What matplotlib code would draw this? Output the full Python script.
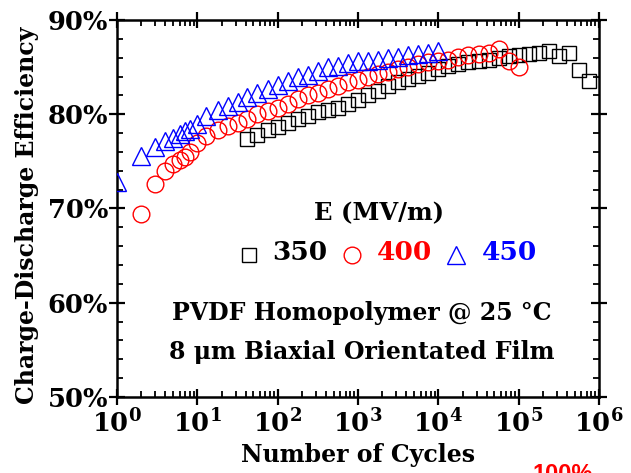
import math
import matplotlib
matplotlib.use("Agg")
import matplotlib.pyplot as plt
from matplotlib.ticker import FixedLocator, LogLocator, NullFormatter, MultipleLocator, FuncFormatter

# ---------------- data ----------------
cycles_350 = [42, 56, 75, 100, 133, 178, 237, 316, 422, 562, 750, 1000, 1334, 1778,
              2371, 3162, 4217, 5623, 7499, 10000, 13335, 17783, 23714, 31623, 42170,
              56234, 74989, 100000, 133352, 177828, 237137, 316228, 421697, 562341, 749894]
eff_350 = [77.4, 77.8, 78.3, 78.7, 79.1, 79.5, 79.8, 80.2, 80.4, 80.7, 81.1, 81.5, 82.0, 82.5,
           83.0, 83.4, 83.7, 84.1, 84.4, 84.8, 85.1, 85.3, 85.5, 85.7, 85.8,
           86.0, 86.2, 86.3, 86.4, 86.5, 86.7, 86.2, 86.5, 84.7, 83.5]

cycles_400 = [2, 3, 4, 5, 6, 7, 8, 10, 13, 18, 24, 32, 42, 56, 75, 100, 133, 178, 237, 316,
              422, 562, 750, 1000, 1334, 1778, 2371, 3162, 4217, 5623, 7499, 10000, 13335,
              17783, 23714, 31623, 42170, 56234, 74989, 100000]
eff_400 = [69.4, 72.6, 74.0, 74.7, 75.1, 75.5, 76.0, 77.0, 77.7, 78.3, 78.8, 79.1, 79.5, 80.0,
           80.3, 80.7, 81.1, 81.6, 82.0, 82.3, 82.7, 83.0, 83.4, 83.6, 83.9, 84.3, 84.5, 84.8,
           85.0, 85.3, 85.5, 85.7, 85.8, 86.1, 86.3, 86.4, 86.5, 86.9, 85.7, 85.0]

cycles_450 = [1, 2, 3, 4, 5, 6, 7, 8, 10, 13, 18, 24, 32, 42, 56, 75, 100, 133, 178, 237,
              316, 422, 562, 750, 1000, 1334, 1778, 2371, 3162, 4217, 5623, 7499, 10000]
eff_450 = [72.8, 75.6, 76.5, 77.2, 77.5, 77.9, 78.2, 78.4, 79.0, 79.8, 80.4, 80.9, 81.3, 81.8,
           82.3, 82.7, 83.1, 83.5, 83.9, 84.2, 84.6, 85.0, 85.1, 85.4, 85.6, 85.7, 85.8, 86.0,
           86.1, 86.3, 86.4, 86.5, 86.7]

y_ticks = [50, 60, 70, 80, 90]
x_ticks = [1, 10, 100, 1000, 10000, 100000, 1000000]
legend_labels = ["350", "400", "450"]
colors = ["black", "red", "blue"]

# ---------------- style ----------------
plt.rcParams['font.family'] = ['DejaVu Serif']
plt.rcParams['font.weight'] = 'bold'
plt.rcParams['mathtext.fontset'] = 'custom'
plt.rcParams['mathtext.rm'] = 'DejaVu Serif:bold'
plt.rcParams['mathtext.bf'] = 'DejaVu Serif:bold'
plt.rcParams['mathtext.it'] = 'DejaVu Serif:bold'

W, H = 631, 473
fig = plt.figure(figsize=(W/100, H/100), dpi=100)
ax = fig.add_axes([117/W, 1-397/H, (599-117)/W, (397-20)/H])

ax.plot(cycles_350, eff_350, ls='none', marker='s', ms=9.5, mfc='none', mec=colors[0], mew=1.0, clip_on=False, zorder=3)
ax.plot(cycles_400, eff_400, ls='none', marker='o', ms=12, mfc='none', mec=colors[1], mew=1.0, clip_on=False, zorder=3)
ax.plot(cycles_450, eff_450, ls='none', marker='^', ms=13, mfc='none', mec=colors[2], mew=1.0, clip_on=True, zorder=3)

ax.set_xscale('log')
ax.set_xlim(1, 1e6)
ax.set_ylim(50, 90)
ax.xaxis.set_major_locator(FixedLocator(x_ticks))
ax.xaxis.set_minor_locator(LogLocator(base=10, subs=range(2, 10), numticks=100))
ax.xaxis.set_minor_formatter(NullFormatter())
ax.xaxis.set_major_formatter(FuncFormatter(lambda v, p: r'$\mathbf{10^{%d}}$' % round(math.log10(v))))
ax.yaxis.set_major_locator(FixedLocator(y_ticks))
ax.yaxis.set_minor_locator(MultipleLocator(2))
ax.yaxis.set_major_formatter(FuncFormatter(lambda v, p: '%d%%' % v))

for s in ax.spines.values():
    s.set_linewidth(1.8)
ax.tick_params(which='major', direction='inout', length=11, width=1.6, top=True, right=True, labelsize=18.5)
ax.tick_params(axis='y', which='major', pad=1)
ax.tick_params(axis='x', which='major', pad=3)
ax.tick_params(which='minor', direction='in', length=4, width=1.3, top=True, right=True)
for lab in ax.get_xticklabels() + ax.get_yticklabels():
    lab.set_fontweight('bold')

fig.text(27/W, 1-215/H, 'Charge-Discharge Efficiency', rotation=90, ha='center', va='center',
         fontsize=17, fontweight='bold')
fig.text(358/W, 1-455/H, 'Number of Cycles', ha='center', va='center', fontsize=17, fontweight='bold')

# legend-like text
fig.text(379/W, 1-213/H, 'E (MV/m)', ha='center', va='center', fontsize=17.5, fontweight='bold')
ly = 1 - 253/H
mk = ['s', 'o', '^']
mpos = [249, 352, 456]
tpos = [300, 404, 509]
msz = [9.5, 12, 13]
for i in range(3):
    fig.lines.append(plt.Line2D([mpos[i]/W], [1-255/H], transform=fig.transFigure, ls='none', marker=mk[i],
                                ms=msz[i], mfc='none', mec=colors[i], mew=1.0))
    fig.text(tpos[i]/W, ly, legend_labels[i], ha='center', va='center', fontsize=19, fontweight='bold', color=colors[i])

fig.text(362/W, 1-313/H, 'PVDF Homopolymer @ 25 °C', ha='center', va='center', fontsize=17, fontweight='bold')
fig.text(362/W, 1-352/H, '8 μm Biaxial Orientated Film', ha='center', va='center', fontsize=17, fontweight='bold')

fig.text(533/W, 1-463/H, '100%', ha='left', va='top', fontsize=17, fontweight='bold', color='red', family='Liberation Sans')

fig.savefig('out.png', dpi=100)
